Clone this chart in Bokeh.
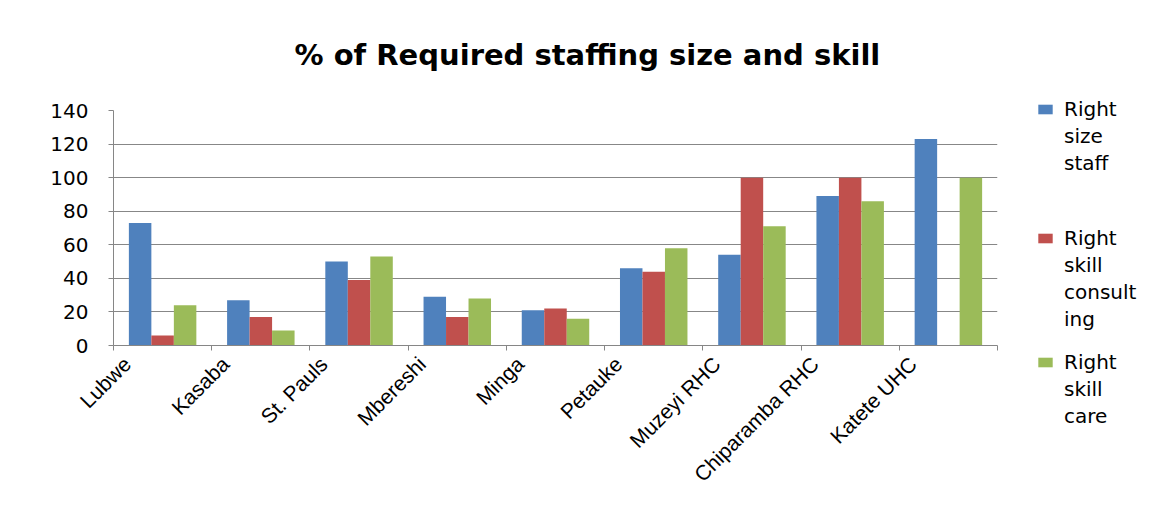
import math
import numpy as np
from bokeh.plotting import figure
from bokeh.models import FixedTicker, Legend, LegendItem, Range1d
from bokeh.embed import file_html
from bokeh.resources import INLINE

sites = ["Lubwe", "Kasaba", "St. Pauls", "Mbereshi", "Minga", "Petauke",
         "Muzeyi RHC", "Chiparamba RHC", "Katete UHC"]
right_size_staff = [73, 27, 50, 29, 21, 46, 54, 89, 123]
right_skill_consulting = [6, 17, 39, 17, 22, 44, 100, 100, 0]
right_skill_care = [24, 9, 53, 28, 16, 58, 71, 86, 100]
# legend text, wrapped as in the original chart
series_label_lines = [["Right", "size", "staff"],
                      ["Right", "skill", "consult", "ing"],
                      ["Right", "skill", "care"]]
y_ticks = [0, 20, 40, 60, 80, 100, 120, 140]

colors = ["#4F81BD", "#C0504D", "#9BBB59"]
bar_w = 0.229
offsets = [-bar_w, 0.0, bar_w]

p = figure(frame_width=884, frame_height=235, output_backend="svg", toolbar_location=None,
           x_range=Range1d(0, len(sites)), y_range=Range1d(0, 140),
           min_border_left=113, min_border_right=0, min_border_top=109,
           min_border_bottom=161)

p.title.text = "% of Required staffing size and skill"
p.title.align = "left"
p.title.offset = 181
p.title.vertical_align = "top"
p.title.standoff = 74
p.title.text_font = "DejaVu Sans"
p.title.text_font_size = "29px"
p.title.text_font_style = "bold"
p.title.text_color = "black"

centers = np.arange(len(sites)) + 0.5
renderers = []
for vals, off, col in zip([right_size_staff, right_skill_consulting, right_skill_care], offsets, colors):
    r = p.vbar(x=centers + off, top=vals, width=bar_w, fill_color=col, line_color=None)
    renderers.append(r)

# legend: swatch on the first line of each wrapped label, gaps between series
items = []
gap_items = [3, 1]
for k, (lines, r) in enumerate(zip(series_label_lines, renderers)):
    items.append(LegendItem(label=lines[0], renderers=[r]))
    for ln in lines[1:]:
        items.append(LegendItem(label=ln, renderers=[]))
    if k < len(gap_items):
        for _ in range(gap_items[k]):
            items.append(LegendItem(label="", renderers=[]))

legend = Legend(items=items,
                location=(39, -83), border_line_color=None, background_fill_alpha=0,
                label_text_font="DejaVu Sans", label_text_font_size="20px",
                label_text_color="black",
                glyph_width=18, glyph_height=12, spacing=3, padding=0, margin=0,
                label_standoff=10, label_height=13)
p.add_layout(legend, "right")

p.outline_line_color = None
p.xgrid.grid_line_color = None
p.ygrid.grid_line_color = "#878787"
p.ygrid.ticker = FixedTicker(ticks=y_ticks)

p.yaxis.ticker = FixedTicker(ticks=y_ticks)
p.yaxis.axis_line_color = "#868686"
p.yaxis.major_tick_line_color = "#868686"
p.yaxis.major_tick_out = 5
p.yaxis.major_tick_in = 0
p.yaxis.minor_tick_line_color = None
p.yaxis.major_label_text_font = "DejaVu Sans"
p.yaxis.major_label_text_font_size = "20px"
p.yaxis.major_label_text_color = "black"
p.yaxis.major_label_standoff = 20

label_pos = centers - 0.36
p.xaxis.ticker = FixedTicker(ticks=list(label_pos), minor_ticks=list(range(len(sites) + 1)))
p.xaxis.major_label_overrides = {float(c): s for c, s in zip(label_pos, sites)}
p.xaxis.major_label_orientation = math.pi / 4
p.xaxis.major_tick_line_color = None
p.xaxis.major_tick_out = 0
p.xaxis.minor_tick_line_color = "#868686"
p.xaxis.minor_tick_out = 5
p.xaxis.minor_tick_in = 0
p.xaxis.axis_line_color = "#868686"
p.xaxis.major_label_text_font = "Liberation Sans"
p.xaxis.major_label_text_font_size = "21px"
p.xaxis.major_label_text_color = "black"
p.xaxis.major_label_standoff = 10

open("out.html", "w").write(file_html(p, INLINE))
